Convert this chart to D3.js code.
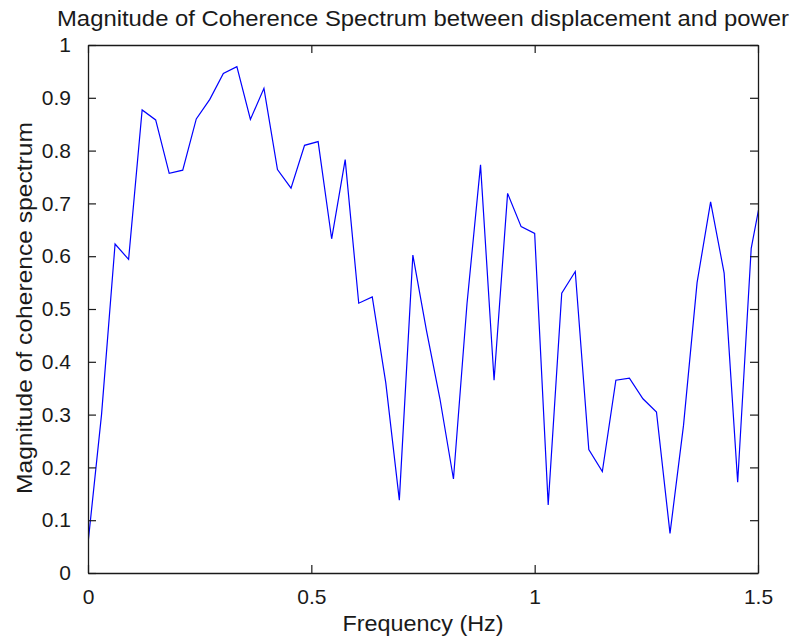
<!DOCTYPE html>
<html>
<head>
<meta charset="utf-8">
<script src="https://cdn.jsdelivr.net/npm/d3@7"></script>
<style>
  html, body { margin: 0; padding: 0; background: #fff; }
  svg { display: block; }
  text { font-family: "Liberation Sans", Arial, sans-serif; fill: #1a1a1a; }
</style>
</head>
<body>
<svg id="chart" width="796" height="644"></svg>
<script>
const titleText = "Magnitude of Coherence Spectrum between displacement and power";
const xLabel = "Frequency (Hz)";
const yLabel = "Magnitude of coherence spectrum";

const frequency = [0, 0.0303, 0.0606, 0.0909, 0.1212, 0.1515, 0.1818, 0.2121, 0.2424, 0.2727,
  0.3030, 0.3333, 0.3636, 0.3939, 0.4242, 0.4545, 0.4848, 0.5152, 0.5455, 0.5758,
  0.6061, 0.6364, 0.6667, 0.6970, 0.7273, 0.7576, 0.7879, 0.8182, 0.8485, 0.8788,
  0.9091, 0.9394, 0.9697, 1.0000, 1.0303, 1.0606, 1.0909, 1.1212, 1.1515, 1.1818,
  1.2121, 1.2424, 1.2727, 1.3030, 1.3333, 1.3636, 1.3939, 1.4242, 1.4545, 1.4848, 1.5152];

const coherence = [0.056, 0.30, 0.623, 0.594, 0.877, 0.858, 0.757, 0.763, 0.860, 0.897,
  0.946, 0.959, 0.859, 0.918, 0.764, 0.729, 0.810, 0.817, 0.633, 0.783,
  0.511, 0.523, 0.360, 0.138, 0.602, 0.460, 0.330, 0.178, 0.510, 0.773,
  0.365, 0.719, 0.656, 0.643, 0.129, 0.530, 0.571, 0.234, 0.192, 0.365,
  0.369, 0.330, 0.305, 0.075, 0.280, 0.550, 0.703, 0.568, 0.172, 0.615, 0.750];

const xTicks = [0, 0.5, 1, 1.5];
const xTickLabels = ["0", "0.5", "1", "1.5"];
const yTicks = [0, 0.1, 0.2, 0.3, 0.4, 0.5, 0.6, 0.7, 0.8, 0.9, 1];
const yTickLabels = ["0", "0.1", "0.2", "0.3", "0.4", "0.5", "0.6", "0.7", "0.8", "0.9", "1"];

const W = 796, H = 644;
const margin = {left: 88, top: 45, right: 38, bottom: 71};
const pw = W - margin.left - margin.right;
const ph = H - margin.top - margin.bottom;

const svg = d3.select("#chart");
const g = svg.append("g").attr("transform", `translate(${margin.left},${margin.top})`);

const x = d3.scaleLinear().domain([0, 1.5]).range([0, pw]);
const y = d3.scaleLinear().domain([0, 1]).range([ph, 0]);

svg.append("defs").append("clipPath").attr("id", "clip")
  .append("rect").attr("x", 0).attr("y", 0).attr("width", pw).attr("height", ph);

// data line
const line = d3.line().x((d, i) => x(frequency[i])).y(d => y(d));
g.append("path")
  .datum(coherence)
  .attr("clip-path", "url(#clip)")
  .attr("fill", "none")
  .attr("stroke", "#0000ff")
  .attr("stroke-width", 1.2)
  .attr("d", line);

const tickLen = 8;
const axisColor = "#1a1a1a";

const xAxisB = d3.axisBottom(x).tickValues(xTicks).tickFormat((d, i) => xTickLabels[i])
  .tickSizeInner(-tickLen).tickSizeOuter(0).tickPadding(tickLen + 8);
const xAxisT = d3.axisTop(x).tickValues(xTicks).tickFormat("")
  .tickSizeInner(-tickLen).tickSizeOuter(0);
const yAxisL = d3.axisLeft(y).tickValues(yTicks).tickFormat((d, i) => yTickLabels[i])
  .tickSizeInner(-tickLen).tickSizeOuter(0).tickPadding(tickLen + 9);
const yAxisR = d3.axisRight(y).tickValues(yTicks).tickFormat("")
  .tickSizeInner(-tickLen).tickSizeOuter(0);

function style(sel) {
  sel.selectAll("path.domain").attr("stroke", axisColor).attr("stroke-width", 1.3);
  sel.selectAll(".tick line").attr("stroke", axisColor).attr("stroke-width", 1.2);
  sel.selectAll(".tick text").attr("fill", axisColor)
    .style("font-family", '"Liberation Sans", Arial, sans-serif').style("font-size", "21px");
}

g.append("g").attr("transform", `translate(0,${ph})`).call(xAxisB).call(style);
g.append("g").call(xAxisT).call(style);
g.append("g").call(yAxisL).call(style);
g.append("g").attr("transform", `translate(${pw},0)`).call(yAxisR).call(style);

// title
svg.append("text")
  .attr("x", margin.left + pw / 2).attr("y", 26)
  .attr("text-anchor", "middle")
  .attr("textLength", 732).attr("lengthAdjust", "spacingAndGlyphs")
  .style("font-size", "22px")
  .text(titleText);

// x label
svg.append("text")
  .attr("x", margin.left + pw / 2).attr("y", 631)
  .attr("text-anchor", "middle")
  .attr("textLength", 161).attr("lengthAdjust", "spacingAndGlyphs")
  .style("font-size", "22px")
  .text(xLabel);

// y label
svg.append("text")
  .attr("transform", `translate(32,${margin.top + ph / 2 - 1}) rotate(-90)`)
  .attr("text-anchor", "middle")
  .attr("textLength", 372).attr("lengthAdjust", "spacingAndGlyphs")
  .style("font-size", "22px")
  .text(yLabel);
</script>
</body>
</html>
